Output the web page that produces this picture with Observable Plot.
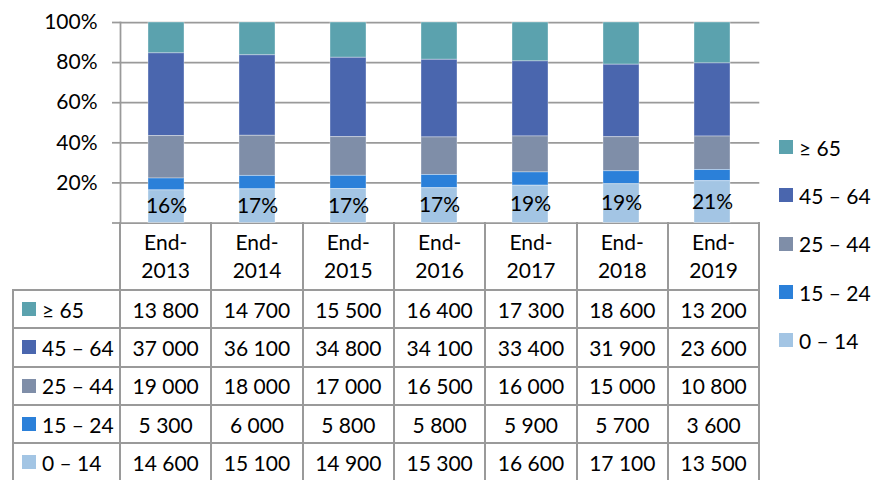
<!DOCTYPE html>
<html>
<head>
<meta charset="utf-8">
<script src="https://cdn.jsdelivr.net/npm/d3@7"></script>
<script src="https://cdn.jsdelivr.net/npm/@observablehq/plot@0.6"></script>
<style>
  body { margin: 0; background: #fff; }
  #wrap { position: relative; width: 872px; height: 480px; overflow: hidden;
          font-family: Lato, "Open Sans", sans-serif; color: #000; }
  #chart { position: absolute; left: 0; top: 0; }
  #table { position: absolute; left: 12px; top: 222px; display: grid;
           grid-template-columns: 109px repeat(7, 91.33px);
           grid-template-rows: 69px repeat(5, 38.3px); font-size: 21px; }
  .cell { box-sizing: border-box; border-right: 2px solid #9a9a9a; border-bottom: 2px solid #9a9a9a;
          display: flex; align-items: center; justify-content: center; white-space: nowrap; }
  .corner { box-sizing: border-box; border-right: 2px solid #9a9a9a; border-bottom: 2px solid #9a9a9a; }
  .head { flex-direction: column; line-height: 28px; }
  .rowlab { border-left: 2px solid #9a9a9a; justify-content: flex-start; padding-left: 8px; }
  .sw { display: inline-block; width: 14px; height: 14px; margin-right: 6px; flex: none; }
  #legend { position: absolute; left: 779px; top: 123px; font-size: 21px; }
  .li { display: flex; align-items: center; height: 48.3px; }
</style>
</head>
<body>
<div id="wrap">
  <div id="chart"></div>
  <div id="table"></div>
  <div id="legend"></div>
</div>
<script>
// Reporting dates (columns)
const categories = ["End-2013", "End-2014", "End-2015", "End-2016", "End-2017", "End-2018", "End-2019"];

// Age groups, listed top to bottom as in the data table
const groups = ["≥ 65", "45 – 64", "25 – 44", "15 – 24", "0 – 14"];
const colors = ["#5ba2ae", "#4a66ae", "#7f8ea8", "#2b80d9", "#a3c5e4"];

// Counts per age group
const age65plus = [13800, 14700, 15500, 16400, 17300, 18600, 13200];
const age45to64 = [37000, 36100, 34800, 34100, 33400, 31900, 23600];
const age25to44 = [19000, 18000, 17000, 16500, 16000, 15000, 10800];
const age15to24 = [5300, 6000, 5800, 5800, 5900, 5700, 3600];
const age0to14  = [14600, 15100, 14900, 15300, 16600, 17100, 13500];

// Percentage axis ticks
const yTicks = [0, 0.2, 0.4, 0.6, 0.8, 1];

const series = [age65plus, age45to64, age25to44, age15to24, age0to14];
const rows = [];
groups.forEach((g, gi) => categories.forEach((c, ci) => rows.push({year: c, group: g, value: series[gi][ci]})));
const totals = d3.rollup(rows, v => d3.sum(v, d => d.value), d => d.year);
const stackOrder = groups.slice().reverse(); // youngest at the bottom
const labelled = "0 – 14";
const pct = d3.format(".0%");
const GRID = "#9a9a9a";

const stackOpts = {offset: "normalize", order: stackOrder, x: "year", y: "value", z: "group"};

const chart = Plot.plot({
  width: 872,
  height: 224,
  marginLeft: 120,
  marginRight: 112.7,
  marginTop: 22,
  marginBottom: 1.5,
  style: {fontFamily: "Lato, 'Open Sans', sans-serif", fontSize: "21px", color: "#000", background: "transparent", overflow: "visible"},
  x: {domain: categories, paddingInner: 0.6, paddingOuter: 0.3, axis: null},
  y: {domain: [0, 1], axis: null},
  color: {domain: groups, range: colors},
  marks: [
    Plot.ruleY(yTicks, {stroke: GRID, strokeWidth: 1.75}),
    Plot.axisY({ticks: yTicks, tickSize: 8, tickPadding: 15, stroke: GRID, strokeWidth: 1.75, label: null,
                tickFormat: d => d === 0 ? "" : pct(d), fontSize: 21}),
    Plot.frame({anchor: "left", stroke: GRID, strokeWidth: 1.75}),
    Plot.barY(rows, Plot.stackY({...stackOpts, fill: "group", stroke: "#fff", strokeOpacity: 0.35, strokeWidth: 1})),
    Plot.text(rows, Plot.stackY({...stackOpts, fill: "#000", fontSize: 21,
      text: d => d.group === labelled ? pct(d.value / totals.get(d.year)) : null}))
  ]
});
document.getElementById("chart").appendChild(chart);

// Data table below the chart
const fmt = d3.formatLocale({decimal: ".", thousands: " ", grouping: [3], currency: ["", ""]}).format(",");
const table = document.getElementById("table");
const add = (cls, html) => { const el = document.createElement("div"); el.className = cls; el.innerHTML = html; table.appendChild(el); return el; };
add("corner", "");
categories.forEach(c => {
  const i = c.indexOf("-") + 1;
  add("cell head", `<span>${c.slice(0, i)}</span><span>${c.slice(i)}</span>`);
});
groups.forEach((g, gi) => {
  add("cell rowlab", `<span class="sw" style="background:${colors[gi]}"></span><span>${g}</span>`);
  series[gi].forEach(v => add("cell", fmt(v)));
});

// Legend to the right
const legend = document.getElementById("legend");
groups.forEach((g, gi) => {
  const el = document.createElement("div");
  el.className = "li";
  el.innerHTML = `<span class="sw" style="background:${colors[gi]}"></span><span>${g}</span>`;
  legend.appendChild(el);
});
</script>
</body>
</html>
